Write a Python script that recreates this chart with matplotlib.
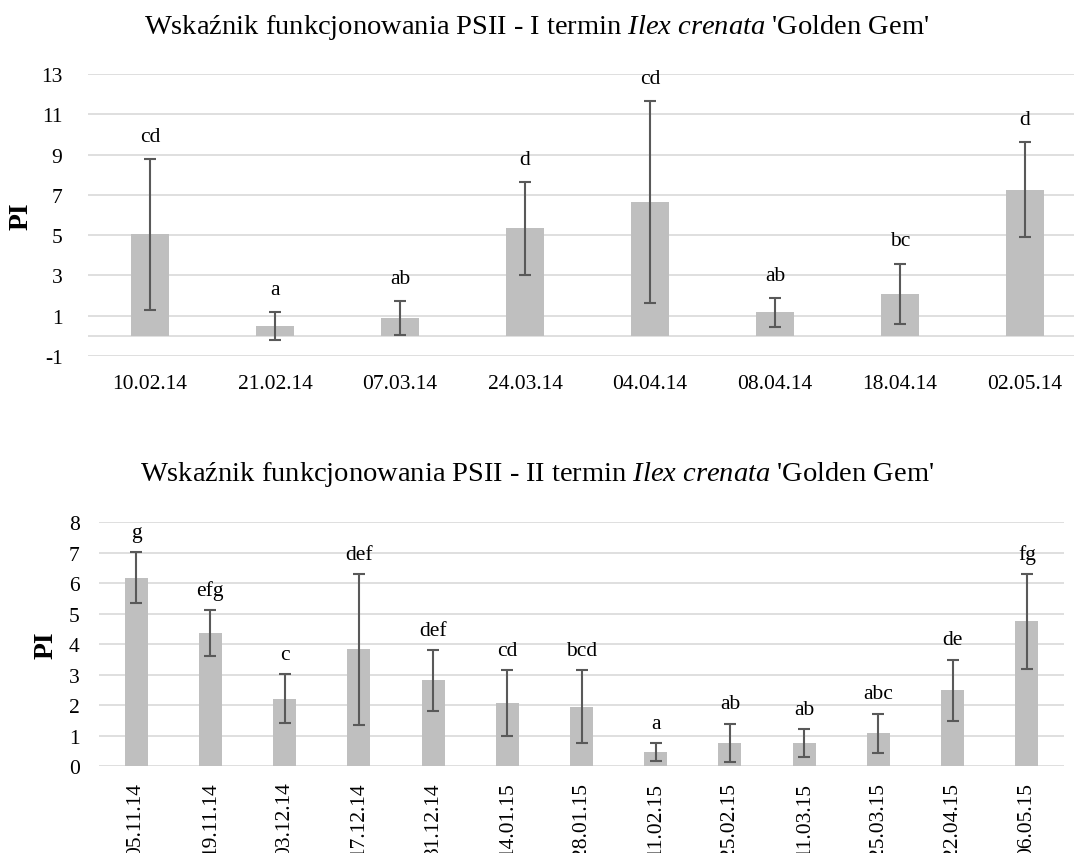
import matplotlib
matplotlib.use("Agg")
import matplotlib.pyplot as plt
import numpy as np

plt.rcParams['font.family'] = ['Liberation Serif', 'DejaVu Serif']
plt.rcParams['mathtext.fontset'] = 'custom'
plt.rcParams['mathtext.rm'] = 'Liberation Serif'
plt.rcParams['mathtext.it'] = 'Liberation Serif:italic'
plt.rcParams['axes.unicode_minus'] = False

# ---- data: I termin ----
dates1 = ["10.02.14", "21.02.14", "07.03.14", "24.03.14", "04.04.14", "08.04.14", "18.04.14", "02.05.14"]
pi1 = [5.05, 0.49, 0.87, 5.33, 6.64, 1.16, 2.10, 7.25]
sd1 = [3.75, 0.70, 0.85, 2.30, 5.00, 0.73, 1.49, 2.36]
groups1 = ["cd", "a", "ab", "d", "cd", "ab", "bc", "d"]

# ---- data: II termin ----
dates2 = ["05.11.14", "19.11.14", "03.12.14", "17.12.14", "31.12.14", "14.01.15", "28.01.15",
          "11.02.15", "25.02.15", "11.03.15", "25.03.15", "22.04.15", "06.05.15"]
pi2 = [6.18, 4.37, 2.22, 3.83, 2.82, 2.07, 1.95, 0.48, 0.77, 0.77, 1.08, 2.50, 4.75]
sd2 = [0.84, 0.76, 0.81, 2.47, 1.00, 1.09, 1.20, 0.29, 0.63, 0.46, 0.65, 1.00, 1.55]
groups2 = ["g", "efg", "c", "def", "def", "cd", "bcd", "a", "ab", "ab", "abc", "de", "fg"]

title1 = "Wskaźnik funkcjonowania PSII - I termin $\\mathit{Ilex\\ crenata}$ 'Golden Gem'"
title2 = "Wskaźnik funkcjonowania PSII - II termin $\\mathit{Ilex\\ crenata}$ 'Golden Gem'"

BAR = "#bfbfbf"
GRID = "#d9d9d9"
ERR = "#595959"

W, H = 1074, 854
fig = plt.figure(figsize=(W / 100, H / 100), dpi=100)


def px_axes(left, right, top, bottom):
    return fig.add_axes([left / W, 1 - bottom / H, (right - left) / W, (bottom - top) / H])


def style(ax, ticks, ylim):
    ax.set_ylim(*ylim)
    ax.set_yticks(ticks)
    ax.yaxis.grid(True, color=GRID, linewidth=1.2)
    ax.set_axisbelow(True)
    for s in ax.spines.values():
        s.set_visible(False)
    ax.tick_params(axis='both', length=0, labelsize=15.5)


# ---- top chart ----
ax1 = px_axes(87.5, 1087.5, 75, 357)
x1 = np.arange(len(dates1))
ax1.bar(x1, pi1, width=0.31, color=BAR, zorder=2)
ax1.errorbar(x1, pi1, yerr=sd1, fmt='none', ecolor=ERR, elinewidth=1.5,
             capsize=4.6, capthick=1.5, zorder=3)
style(ax1, np.arange(-1, 14, 2), (-1, 13))
ax1.axhline(0, color=GRID, linewidth=1.2, zorder=1)
ax1.set_xlim(-0.5, len(dates1) - 0.5)
ax1.set_xticks(x1)
ax1.set_xticklabels(dates1)
ax1.tick_params(axis='x', pad=13)
ax1.tick_params(axis='y', pad=18)
for xi, v, e, g in zip(x1, pi1, sd1, groups1):
    ax1.annotate(g, (xi, v + e), xytext=(0, 13), textcoords='offset points',
                 ha='center', va='baseline', fontsize=15.5)
ax1.set_ylabel("PI", fontsize=20, fontweight='bold')
ax1.yaxis.set_label_coords(-0.0535, 0.5)

# ---- bottom chart ----
ax2 = px_axes(99, 1064, 523.3, 767.3)
x2 = np.arange(len(dates2))
ax2.bar(x2, pi2, width=0.31, color=BAR, zorder=2)
ax2.errorbar(x2, pi2, yerr=sd2, fmt='none', ecolor=ERR, elinewidth=1.5,
             capsize=4.6, capthick=1.5, zorder=3)
style(ax2, np.arange(0, 9, 1), (0, 8))
ax2.set_xlim(-0.5, len(dates2) - 0.5)
ax2.set_xticks(x2)
ax2.set_xticklabels(dates2, rotation=90)
ax2.tick_params(axis='x', pad=11)
ax2.tick_params(axis='y', pad=14)
for xi, v, e, g in zip(x2, pi2, sd2, groups2):
    ax2.annotate(g, (xi, v + e), xytext=(0, 11), textcoords='offset points',
                 ha='center', va='baseline', fontsize=15.5)
ax2.set_ylabel("PI", fontsize=20, fontweight='bold')
ax2.yaxis.set_label_coords(-0.0415, 0.5)

fig.text(0.5, 1 - 27 / H, title1, ha='center', va='center', fontsize=20.5)
fig.text(0.5, 1 - 475 / H, title2, ha='center', va='center', fontsize=20.5)

fig.savefig("out.png", dpi=100, facecolor='white')
